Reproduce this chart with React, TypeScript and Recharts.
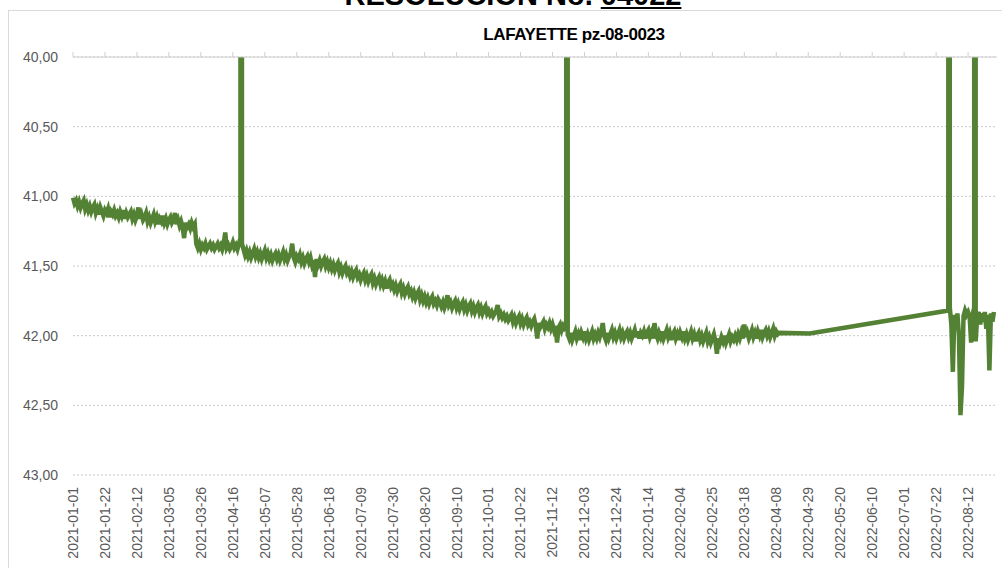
import { LineChart, Line, XAxis, YAxis, CartesianGrid } from "recharts";

// days are counted from this date
const startDate = "2021-01-01";

// daily water level (m), one array per block of days
const levels2021a = [
  41.01, 41.05, 41.03, 41.07, 41.04, 41.08, 41.05, 41.03, 41.09, 41.06,
  41.1, 41.07, 41.11, 41.08, 41.06, 41.12, 41.09, 41.13, 41.08, 41.11,
  41.14, 41.1, 41.12, 41.09, 41.15, 41.11, 41.13, 41.1, 41.14, 41.12,
  41.15, 41.11, 41.14, 41.1, 41.16, 41.12, 41.15, 41.13, 41.11, 41.16,
  41.13, 41.17, 41.14, 41.08, 41.16, 41.13, 41.17, 41.15, 41.12, 41.18,
  41.15, 41.19, 41.16, 41.13, 41.18, 41.15, 41.2, 41.16, 41.18, 41.14,
  41.19, 41.16, 41.2, 41.17, 41.15, 41.19, 41.17, 41.12, 41.2, 41.17,
  41.21, 41.18, 41.22, 41.3, 41.19, 41.22, 41.2, 41.23, 41.19, 41.22,
  41.2, 41.34, 41.37, 41.34, 41.38, 41.35, 41.37, 41.34, 41.38, 41.36,
];
const levels2021b = [
  41.34, 41.37, 41.35, 41.38, 41.36, 41.34, 41.37, 41.35, 41.38, 41.34,
  41.26, 41.37, 41.35, 41.38, 41.36, 41.33, 41.37, 41.35, 41.38, 41.34,
  41.36, 41.34, 41.38, 41.42, 41.39, 41.43, 41.4, 41.44, 41.41, 41.38,
  41.43, 41.4, 41.44, 41.41, 41.45, 41.42, 41.39, 41.44, 41.41, 41.45,
  41.42, 41.46, 41.43, 41.41, 41.45, 41.42, 41.46, 41.43, 41.4, 41.45,
  41.42, 41.46, 41.43, 41.41, 41.34, 41.44, 41.47, 41.43, 41.45, 41.42,
  41.47, 41.44, 41.48, 41.45, 41.43, 41.47, 41.44, 41.49, 41.46, 41.58,
  41.45, 41.49, 41.46, 41.5, 41.47, 41.45, 41.5, 41.47, 41.51, 41.48,
  41.52, 41.49, 41.53, 41.5, 41.48, 41.54, 41.51, 41.55, 41.52, 41.5, 41.55,
];
const levels2021c = [
  41.53, 41.57, 41.54, 41.58, 41.55, 41.53, 41.58, 41.56, 41.6, 41.57,
  41.55, 41.6, 41.57, 41.61, 41.58, 41.56, 41.62, 41.59, 41.63, 41.6,
  41.58, 41.63, 41.6, 41.64, 41.61, 41.66, 41.62, 41.6, 41.65, 41.63,
  41.67, 41.64, 41.68, 41.65, 41.63, 41.69, 41.66, 41.7, 41.67, 41.65,
  41.7, 41.68, 41.72, 41.69, 41.73, 41.7, 41.68, 41.74, 41.71, 41.75,
  41.72, 41.76, 41.73, 41.77, 41.74, 41.72, 41.77, 41.75, 41.78, 41.74,
  41.76, 41.79, 41.76, 41.8, 41.77, 41.71, 41.78, 41.76, 41.8, 41.77,
  41.75, 41.8, 41.77, 41.81, 41.78, 41.76, 41.81, 41.78, 41.82, 41.79,
  41.77, 41.82, 41.79, 41.83, 41.8, 41.78, 41.83, 41.8, 41.84, 41.81, 41.79, 41.84,
];
const levels2021d = [
  41.82, 41.85, 41.83, 41.86, 41.84, 41.82, 41.78, 41.86, 41.84, 41.87,
  41.85, 41.88, 41.86, 41.89, 41.87, 41.85, 41.9, 41.87, 41.91, 41.88,
  41.86, 41.91, 41.88, 41.92, 41.89, 41.87, 41.92, 41.9, 41.93, 41.9,
  41.88, 41.93, 42.02, 41.91, 41.94, 41.92, 41.9, 41.95, 41.92, 41.94,
  41.91, 41.95, 41.92, 41.96, 41.93, 42.05, 41.94, 41.92, 41.96, 41.93,
  41.95, 41.94, 41.99, 42.02, 41.98, 42.03, 42.0, 41.97, 42.02, 41.99,
  42.03, 41.98, 42.01, 41.97, 42.02, 41.99, 42.03, 42.0, 41.97, 42.02,
  41.99, 42.02, 41.98, 42.01, 41.97, 41.91, 42.0, 42.03, 41.98, 42.02,
  41.99, 41.96, 42.01, 41.98, 42.02, 41.99, 41.96, 42.01, 41.98, 42.02, 41.99, 41.97,
];
const levels2022a = [
  42.01, 41.98, 42.02, 41.99, 41.96, 42.01, 41.97, 42.02, 41.98, 42.0,
  41.97, 42.02, 41.98, 41.96, 42.01, 41.98, 42.02, 41.91, 41.99, 42.02,
  41.98, 42.01, 41.97, 42.02, 41.99, 41.96, 42.01, 41.98, 42.03, 41.99,
  41.97, 42.02, 41.99, 42.03, 41.98, 42.01, 41.97, 42.02, 41.99, 42.03,
  42.0, 41.97, 42.02, 41.99, 42.04, 42.0, 41.98, 42.03, 42.0, 42.04,
  42.01, 41.98, 42.04, 42.01, 42.05, 42.02, 41.99, 42.04, 42.13, 42.02,
  42.05, 42.01, 42.04, 42.0, 42.05, 42.02, 41.99, 42.04, 42.01, 42.03,
  42.0, 42.03, 41.99, 42.02, 41.98, 42.02, 41.92, 42.01, 41.98, 42.02,
  41.99, 41.96, 42.01, 41.98, 42.02, 41.97, 42.0, 41.96, 42.01, 41.98,
  41.96, 42.0, 41.97, 42.01, 41.98, 41.95, 42.0, 41.97, 41.99, 41.98,
];
const blockStarts = [0, 90, 181, 273, 365];

// single reading inside the gap in the record
const gapDays = [484];
const gapLevels = [41.985];

// daily readings at the end of the record, from day 575
const tailStart = 575;
const levels2022b = [
  41.82, 41.8, 41.92, 42.26, 41.85, 41.95, 41.84, 42.0, 42.57, 42.37, 41.86,
  41.82, 41.85, 41.83, 41.86, 42.05, 41.85, 41.8, 42.04, 41.86, 41.83, 41.92,
  41.84, 41.9, 41.83, 41.95, 41.85, 42.25, 41.84, 41.9, 41.83,
];

// off-scale readings that shoot past the top of the axis
const spikeDays = [110.5, 324.5, 575.5, 592.5];
const spikeLevel = 0;

const tickLabels = [
  "2021-01-01", "2021-01-22", "2021-02-12", "2021-03-05", "2021-03-26",
  "2021-04-16", "2021-05-07", "2021-05-28", "2021-06-18", "2021-07-09",
  "2021-07-30", "2021-08-20", "2021-09-10", "2021-10-01", "2021-10-22",
  "2021-11-12", "2021-12-03", "2021-12-24", "2022-01-14", "2022-02-04",
  "2022-02-25", "2022-03-18", "2022-04-08", "2022-04-29", "2022-05-20",
  "2022-06-10", "2022-07-01", "2022-07-22", "2022-08-12",
];
const levelTicks = [40, 40.5, 41, 41.5, 42, 42.5, 43];

const DAY = 86400000;
const dayOf = (s: string) => Math.round((Date.parse(s) - Date.parse(startDate)) / DAY);
const tickDays = tickLabels.map(dayOf);
const labelOf = (d: number) => tickLabels[tickDays.indexOf(d)] ?? "";

type Row = { day: number; level: number };
const rows: Row[] = [];
[levels2021a, levels2021b, levels2021c, levels2021d, levels2022a].forEach((blk, i) =>
  blk.forEach((v, j) => rows.push({ day: blockStarts[i] + j, level: v }))
);
gapDays.forEach((d, i) => rows.push({ day: d, level: gapLevels[i] }));
levels2022b.forEach((v, j) => rows.push({ day: tailStart + j, level: v }));
spikeDays.forEach((d) => rows.push({ day: d, level: spikeLevel }));
rows.sort((a, b) => a.day - b.day);

const DateTick = (props: any) => {
  const { x, y, payload } = props;
  return (
    <g transform={`translate(${x},${y})`}>
      <text
        transform="rotate(-90)"
        x={-4}
        y={0}
        dy="0.35em"
        textAnchor="end"
        fill="#595959"
        fontSize={14}
      >
        {labelOf(payload.value)}
      </text>
    </g>
  );
};

const font = '"Liberation Sans", Arial, sans-serif';

export default function App() {
  return (
    <div
      style={{
        position: "absolute",
        left: 0,
        top: 0,
        width: 1002,
        height: 568,
        overflow: "hidden",
        background: "#fff",
        fontFamily: font,
      }}
    >
      <div
        style={{
          position: "absolute",
          left: 0,
          width: 1002,
          top: -19,
          textAlign: "center",
          fontSize: 29,
          lineHeight: "29px",
          fontWeight: "bold",
          paddingLeft: 24,
          boxSizing: "border-box",
        }}
      >
        RESOLUCION No. <span style={{ textDecoration: "underline" }}>04022</span>
      </div>
      <div
        style={{
          position: "absolute",
          left: 8,
          top: 10,
          width: 1002,
          height: 568,
          borderTop: "1px solid #d9d9d9",
          borderLeft: "1px solid #d9d9d9",
        }}
      />
      <div
        style={{
          position: "absolute",
          left: 474,
          width: 200,
          top: 25,
          textAlign: "center",
          fontSize: 17,
          fontWeight: "bold",
          letterSpacing: -0.4,
        }}
      >
        LAFAYETTE pz-08-0023
      </div>
      <div style={{ position: "absolute", left: 0, top: 0 }}>
        <LineChart
          width={1002}
          height={568}
          data={rows}
          margin={{ top: 52, right: 5, bottom: 0, left: 0 }}
        >
          <CartesianGrid vertical={false} stroke="#c8c8c8" strokeDasharray="2 2" />
          <XAxis
            xAxisId="top"
            orientation="top"
            type="number"
            dataKey="day"
            domain={[0, 607]}
            ticks={tickDays}
            height={5}
            tickSize={5}
            stroke="#d0d0d0"
            tickFormatter={() => ""}
          />
          <XAxis
            type="number"
            dataKey="day"
            domain={[0, 607]}
            ticks={tickDays}
            height={93}
            axisLine={false}
            tickLine={false}
            tick={<DateTick />}
            interval={0}
          />
          <YAxis
            reversed
            domain={[40, 43]}
            ticks={levelTicks}
            allowDataOverflow
            width={73}
            axisLine={false}
            tickLine={false}
            tickSize={0}
            tickMargin={15}
            tick={{ fill: "#595959", fontSize: 14, fontFamily: font }}
            tickFormatter={(v: number) => v.toFixed(2).replace(".", ",")}
          />
          <Line
            type="linear"
            dataKey="level"
            stroke="#548235"
            strokeWidth={4.5}
            dot={false}
            isAnimationActive={false}
          />
        </LineChart>
      </div>
    </div>
  );
}
